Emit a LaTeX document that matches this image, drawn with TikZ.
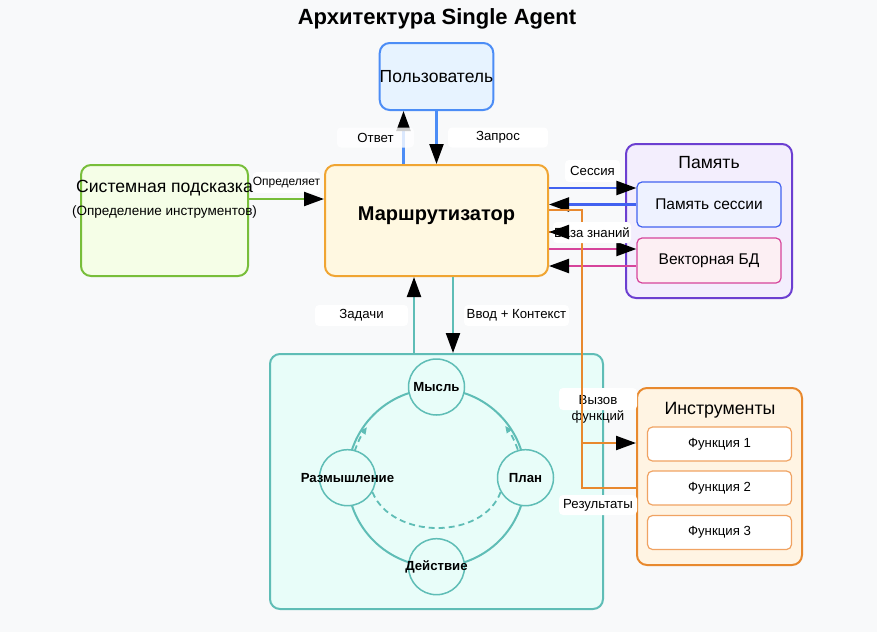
\documentclass[tikz,border=0pt]{standalone}
\usepackage{fontspec}
\setmainfont{Liberation Sans}
\usetikzlibrary{arrows.meta}

\definecolor{bgc}{HTML}{F8F9FA}
\definecolor{userfill}{HTML}{E7F3FF}
\definecolor{userline}{HTML}{4C8DF6}
\definecolor{routerfill}{HTML}{FFF8E1}
\definecolor{routerline}{HTML}{F0A532}
\definecolor{sysfill}{HTML}{F5FEE7}
\definecolor{sysline}{HTML}{78BE3A}
\definecolor{memfill}{HTML}{F3EEFD}
\definecolor{memline}{HTML}{6C3FD1}
\definecolor{sessfill}{HTML}{EEF2FF}
\definecolor{sessline}{HTML}{4262F0}
\definecolor{vecfill}{HTML}{FCEFF3}
\definecolor{vecline}{HTML}{D6449B}
\definecolor{toolfill}{HTML}{FFF4E3}
\definecolor{toolline}{HTML}{E8892E}
\definecolor{funcline}{HTML}{F0A363}
\definecolor{cycfill}{HTML}{E8FDF9}
\definecolor{cycline}{HTML}{5FBDB6}

\begin{document}
\begin{tikzpicture}[x=1pt, y=-1pt,
		box/.style={draw, line width=2pt, rounded corners=10pt, inner sep=0pt},
		subbox/.style={draw, line width=1.2pt, rounded corners=5pt, minimum width=144pt, inner sep=0pt},
		lbl/.style={fill=white, rounded corners=4pt, inner sep=0pt, minimum height=20pt, font=\fontsize{13.2}{15}\selectfont},
		link/.style={line width=2.2pt},
		blacktip/.style={-{Triangle[length=20pt,width=14pt,color=black]}},
		stage/.style={circle, draw=cycline, fill=cycfill, line width=1.5pt, minimum size=56pt, inner sep=0pt},
		stagetext/.style={font=\bfseries\fontsize{13.2}{15}\selectfont},
		loopdash/.style={cycline, line width=1.8pt, dash pattern=on 6pt off 4pt}]

		\fill[bgc] (0,0) rectangle (877,632);
		\useasboundingbox (0,0) rectangle (877,632);

		\node[font=\bfseries\fontsize{22}{26}\selectfont] (title) at (437,19) {Архитектура Single Agent};

		% main boxes
		\node[box, draw=userline, fill=userfill, minimum width=112pt, minimum height=67pt, font=\fontsize{17.5}{20}\selectfont] (user) at (436.5,76.5) {Пользователь};
		\node[box, draw=routerline, fill=routerfill, minimum width=223pt, minimum height=111pt] (router) at (436.5,220.5) {};
		\node[font=\bfseries\fontsize{20}{24}\selectfont] (routertext) at (436.5,215.5) {Маршрутизатор};
		\node[box, draw=sysline, fill=sysfill, minimum width=167pt, minimum height=111pt] (sys) at (164.5,220.5) {};
		\node[font=\fontsize{17.6}{20}\selectfont] (systitle) at (164.5,188) {Системная подсказка};
		\node[font=\fontsize{13.5}{16}\selectfont] (sysnote) at (164.5,212) {(Определение инструментов)};

		% memory
		\node[box, draw=memline, fill=memfill, minimum width=166pt, minimum height=154pt] (mem) at (709,221) {};
		\node[font=\fontsize{17.6}{20}\selectfont] (memtitle) at (709,163) {Память};
		\node[subbox, draw=sessline, fill=sessfill, minimum height=45pt, font=\fontsize{15.5}{18}\selectfont] (session) at (709,204.5) {Память сессии};
		\node[subbox, draw=vecline, fill=vecfill, minimum height=45pt, font=\fontsize{15.5}{18}\selectfont] (vector) at (709,260.5) {Векторная БД};

		% tools
		\node[box, draw=toolline, fill=toolfill, minimum width=165pt, minimum height=177pt] (tools) at (719.5,476.5) {};
		\node[font=\fontsize{17.8}{20}\selectfont] (tooltitle) at (720,410) {Инструменты};
		\foreach \i/\y in {1/444,2/488,3/532.5}
			\node[subbox, draw=funcline, fill=white, minimum height=34pt, font=\fontsize{13.2}{15}\selectfont] (func\i) at (719.5,\y) {Функция \i};

		% agent loop
		\node[box, draw=cycline, fill=cycfill, minimum width=333pt, minimum height=255pt] (cyc) at (436.5,481.5) {};
		\coordinate (hub) at (436.5,477.7);
		\draw[cycline, line width=2pt] (hub) circle[radius=89];
		\draw[loopdash, -{Triangle[length=7pt,width=6pt]}] (hub) ++(198:86) arc[start angle=198, end angle=216, radius=86];
		\draw[loopdash, -{Triangle[length=7pt,width=6pt]}] (hub) ++(341:86) arc[start angle=341, end angle=323, radius=86];
		\node[stage, label={[stagetext]center:Мысль}] (thought) at (436.5,387) {};
		\node[stage, label={[stagetext]center:План}] (plan) at (525.5,477.7) {};
		\node[stage, label={[stagetext]center:Действие}] (act) at (436.5,566.7) {};
		\node[stage, label={[stagetext]center:Размышление}] (reflect) at (347.5,477.7) {};
		\draw[loopdash] (plan.210) .. controls (483,540) and (392,540) .. (reflect.330);

		% labels under the lines
		\node[lbl, minimum width=100pt] (querylbl) at (498,137.5) {Запрос};
		\node[lbl, minimum width=57pt, minimum height=21pt, font=\fontsize{12}{14}\selectfont] (defineslbl) at (286.5,182.5) {Определяет};
		\node[lbl, minimum width=55pt, minimum height=22pt] (sessionlbl) at (592.5,171) {Сессия};
		\node[lbl, minimum width=93pt, minimum height=21pt] (taskslbl) at (361.5,315.5) {Задачи};
		\node[lbl, minimum width=105pt, minimum height=21pt] (inputlbl) at (516.5,315.5) {Ввод + Контекст};
		\node[lbl, minimum width=78pt, minimum height=22pt] (callbox) at (598,399) {};
		\node[font=\fontsize{13.2}{16}\selectfont, align=center] (calllbl) at (598,409) {Вызов\\функций};
		\node[lbl, minimum width=78pt] (resultlbl) at (598,505) {Результаты};

		% connectors
		\draw[link, userline, blacktip] ([xshift=-33pt]router.north) -- ([xshift=-33pt]user.south);
		\draw[link, userline, blacktip] (user.south) -- (router.north);
		\draw[link, sysline, blacktip] ([yshift=21.5pt]sys.east) -- ([yshift=21.5pt]router.west);
		\draw[link, sessline, blacktip] ([yshift=32.5pt]router.east) -- ([yshift=16.5pt]session.west);
		\draw[link, sessline, blacktip] (session.west) -- ([yshift=16pt]router.east);
		\draw[link, vecline, blacktip] ([yshift=-28.5pt]router.east) -- ([yshift=11.5pt]vector.west);
		\draw[link, vecline, blacktip] ([yshift=-5.5pt]vector.west) -- ([yshift=-45.5pt]router.east);
		\draw[link, cycline, blacktip] ([xshift=-22.5pt]cyc.north) -- ([xshift=-22.5pt]router.south);
		\draw[link, cycline, blacktip] ([xshift=16.5pt]router.south) -- ([xshift=16.5pt]cyc.north);
		\draw[link, toolline, blacktip] ([yshift=10.5pt]router.east) -- ++(33,0) |- ([yshift=33.5pt]tools.west);
		\draw[link, toolline] ([yshift=-11.5pt]tools.west) -| ([xshift=33pt, yshift=-11.5pt]router.east) -- ([yshift=-11.5pt]router.east);

		% labels over the lines
		\node[lbl, minimum width=77pt, fill opacity=0.8, text opacity=1] (answerlbl) at (375.5,137.5) {Ответ};
		\node[lbl, minimum width=78pt, minimum height=21pt] (knowlbl) at (592,232.5) {База знаний};
		\draw[link, toolline, blacktip] ([xshift=20pt, yshift=-11.5pt]router.east) -- ([yshift=-11.5pt]router.east);
	\end{tikzpicture}
\end{document}
